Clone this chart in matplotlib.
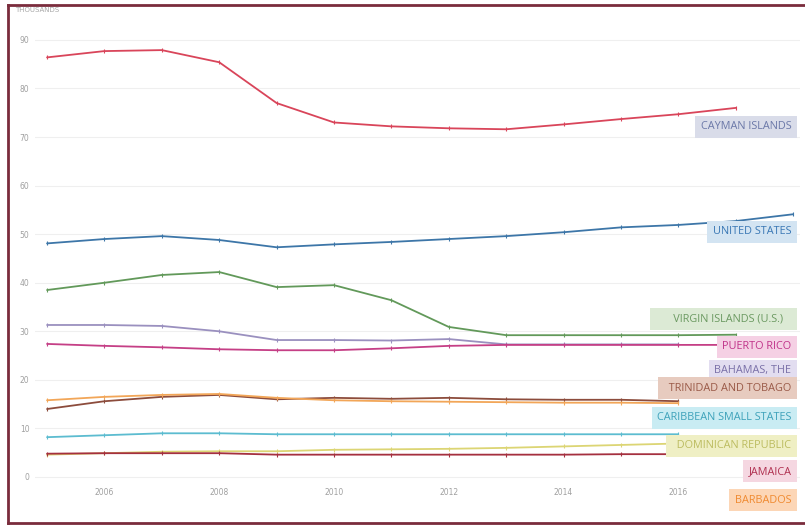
import matplotlib
matplotlib.use("Agg")
import matplotlib.pyplot as plt
from matplotlib.lines import Line2D

years = list(range(2005, 2019))

cayman = [86.4, 87.7, 87.9, 85.4, 77.0, 73.0, 72.2, 71.8, 71.6, 72.6, 73.7, 74.7, 76.0]
united_states = [48.1, 49.0, 49.6, 48.8, 47.3, 47.9, 48.4, 49.0, 49.6, 50.4, 51.4, 51.9, 52.7, 54.1]
virgin_islands = [38.5, 40.0, 41.6, 42.2, 39.1, 39.5, 36.4, 30.9, 29.2, 29.2, 29.2, 29.2, 29.3]
bahamas = [31.3, 31.3, 31.1, 30.0, 28.2, 28.2, 28.1, 28.4, 27.3, 27.3, 27.3, 27.3]
puerto_rico = [27.4, 27.0, 26.7, 26.3, 26.1, 26.1, 26.5, 27.0, 27.2, 27.2, 27.2, 27.2, 27.2]
trinidad = [14.0, 15.6, 16.5, 16.9, 16.0, 16.3, 16.1, 16.3, 16.0, 15.9, 15.9, 15.6]
barbados = [15.8, 16.5, 16.9, 17.1, 16.3, 15.8, 15.6, 15.5, 15.4, 15.3, 15.3, 15.2]
caribbean_small = [8.2, 8.6, 9.0, 9.0, 8.8, 8.8, 8.8, 8.8, 8.8, 8.8, 8.8, 8.8]
dominican_rep = [4.6, 4.9, 5.2, 5.3, 5.3, 5.6, 5.7, 5.8, 6.0, 6.3, 6.6, 6.9]
jamaica = [4.8, 4.9, 4.9, 4.9, 4.6, 4.6, 4.6, 4.6, 4.6, 4.6, 4.7, 4.7]

series = [
    ("CAYMAN ISLANDS", cayman, "#d9455a", "#d9dce9", "#6b78a8", 72.1),
    ("UNITED STATES", united_states, "#3d76a8", "#d3e4f2", "#3a78b5", 50.5),
    ("VIRGIN ISLANDS (U.S.)", virgin_islands, "#62995a", "#dcead5", "#6c9a62", 32.5),
    ("BAHAMAS, THE", bahamas, "#9a90bf", "#e2ddf0", "#7a70a8", 21.9),
    ("PUERTO RICO", puerto_rico, "#c53f86", "#f5d0e4", "#c0338a", 26.8),
    ("TRINIDAD AND TOBAGO", trinidad, "#8c4c3c", "#e7cbbf", "#9a5a48", 18.3),
    ("BARBADOS", barbados, "#f2a658", "#fcd6b6", "#f08a30", -4.8),
    ("CARIBBEAN SMALL STATES", caribbean_small, "#5cbcd0", "#c9ecf3", "#3ea2ba", 12.2),
    ("DOMINICAN REPUBLIC", dominican_rep, "#dcd574", "#efefc4", "#bcbc60", 6.4),
    ("JAMAICA", jamaica, "#a5303f", "#f5d7e1", "#b03050", 1.2),
]

y_ticks = [0, 10, 20, 30, 40, 50, 60, 70, 80, 90]
x_ticks = [2006, 2008, 2010, 2012, 2014, 2016]

W, H = 805, 525
fig = plt.figure(figsize=(W / 100, H / 100), dpi=100)
fig.patch.set_facecolor("white")
ax = fig.add_axes([35 / W, 1 - 482 / H, (800 - 35) / W, (482 - 20) / H])

for name, vals, lc, fc, tc, ly in series:
    xs = years[:len(vals)]
    ax.plot(xs, vals, color=lc, lw=1.3, solid_capstyle="round", zorder=3)
    ax.plot(xs, vals, ls="none", marker="|", ms=3, mew=0.8, color=lc, zorder=3)

label_order = ["CAYMAN ISLANDS", "UNITED STATES", "VIRGIN ISLANDS (U.S.)", "BAHAMAS, THE",
               "PUERTO RICO", "TRINIDAD AND TOBAGO", "CARIBBEAN SMALL STATES",
               "DOMINICAN REPUBLIC", "JAMAICA", "BARBADOS"]
label_text = {"VIRGIN ISLANDS (U.S.)": "      VIRGIN ISLANDS (U.S.)   ",
              "TRINIDAD AND TOBAGO": "  TRINIDAD AND TOBAGO",
              "DOMINICAN REPUBLIC": "  DOMINICAN REPUBLIC"}
lookup = {s[0]: s for s in series}
for i, nm in enumerate(label_order):
    name, vals, lc, fc, tc, ly = lookup[nm]
    ax.text(2017.97, ly, label_text.get(name, name), ha="right", va="center", fontsize=7.8,
            family="Open Sans", color=tc, zorder=10 + i, clip_on=False,
            bbox=dict(boxstyle="square,pad=0.5", fc=fc, ec="none"))

ax.set_xlim(2004.79, 2018.12)
ax.set_ylim(-1.03, 94.1)
ax.set_yticks(y_ticks)
ax.set_xticks(x_ticks)
ax.set_yticklabels([str(v) for v in y_ticks])
ax.set_xticklabels([str(v) for v in x_ticks])
ax.tick_params(axis="both", length=0, labelsize=5.5, labelcolor="#a0a0a0")
ax.tick_params(axis="y", pad=4)
ax.tick_params(axis="x", pad=4)
ax.grid(axis="y", color="#efefef", lw=0.8)
ax.set_axisbelow(True)
for sp in ax.spines.values():
    sp.set_visible(False)

fig.text(15 / W, 1 - 10 / H, "THOUSANDS", fontsize=5, color="#a8a8a8", va="center", ha="left")

frame_color = "#7a2c3c"
fig.add_artist(Line2D([8 / W, 8 / W], [1 - 5 / H, 1 - 523 / H], color=frame_color, lw=2, transform=fig.transFigure))
fig.add_artist(Line2D([8 / W, 1.0], [1 - 5 / H, 1 - 5 / H], color=frame_color, lw=2, transform=fig.transFigure))
fig.add_artist(Line2D([8 / W, 1.0], [1 - 523 / H, 1 - 523 / H], color=frame_color, lw=2, transform=fig.transFigure))

fig.savefig("out.png", dpi=100)
